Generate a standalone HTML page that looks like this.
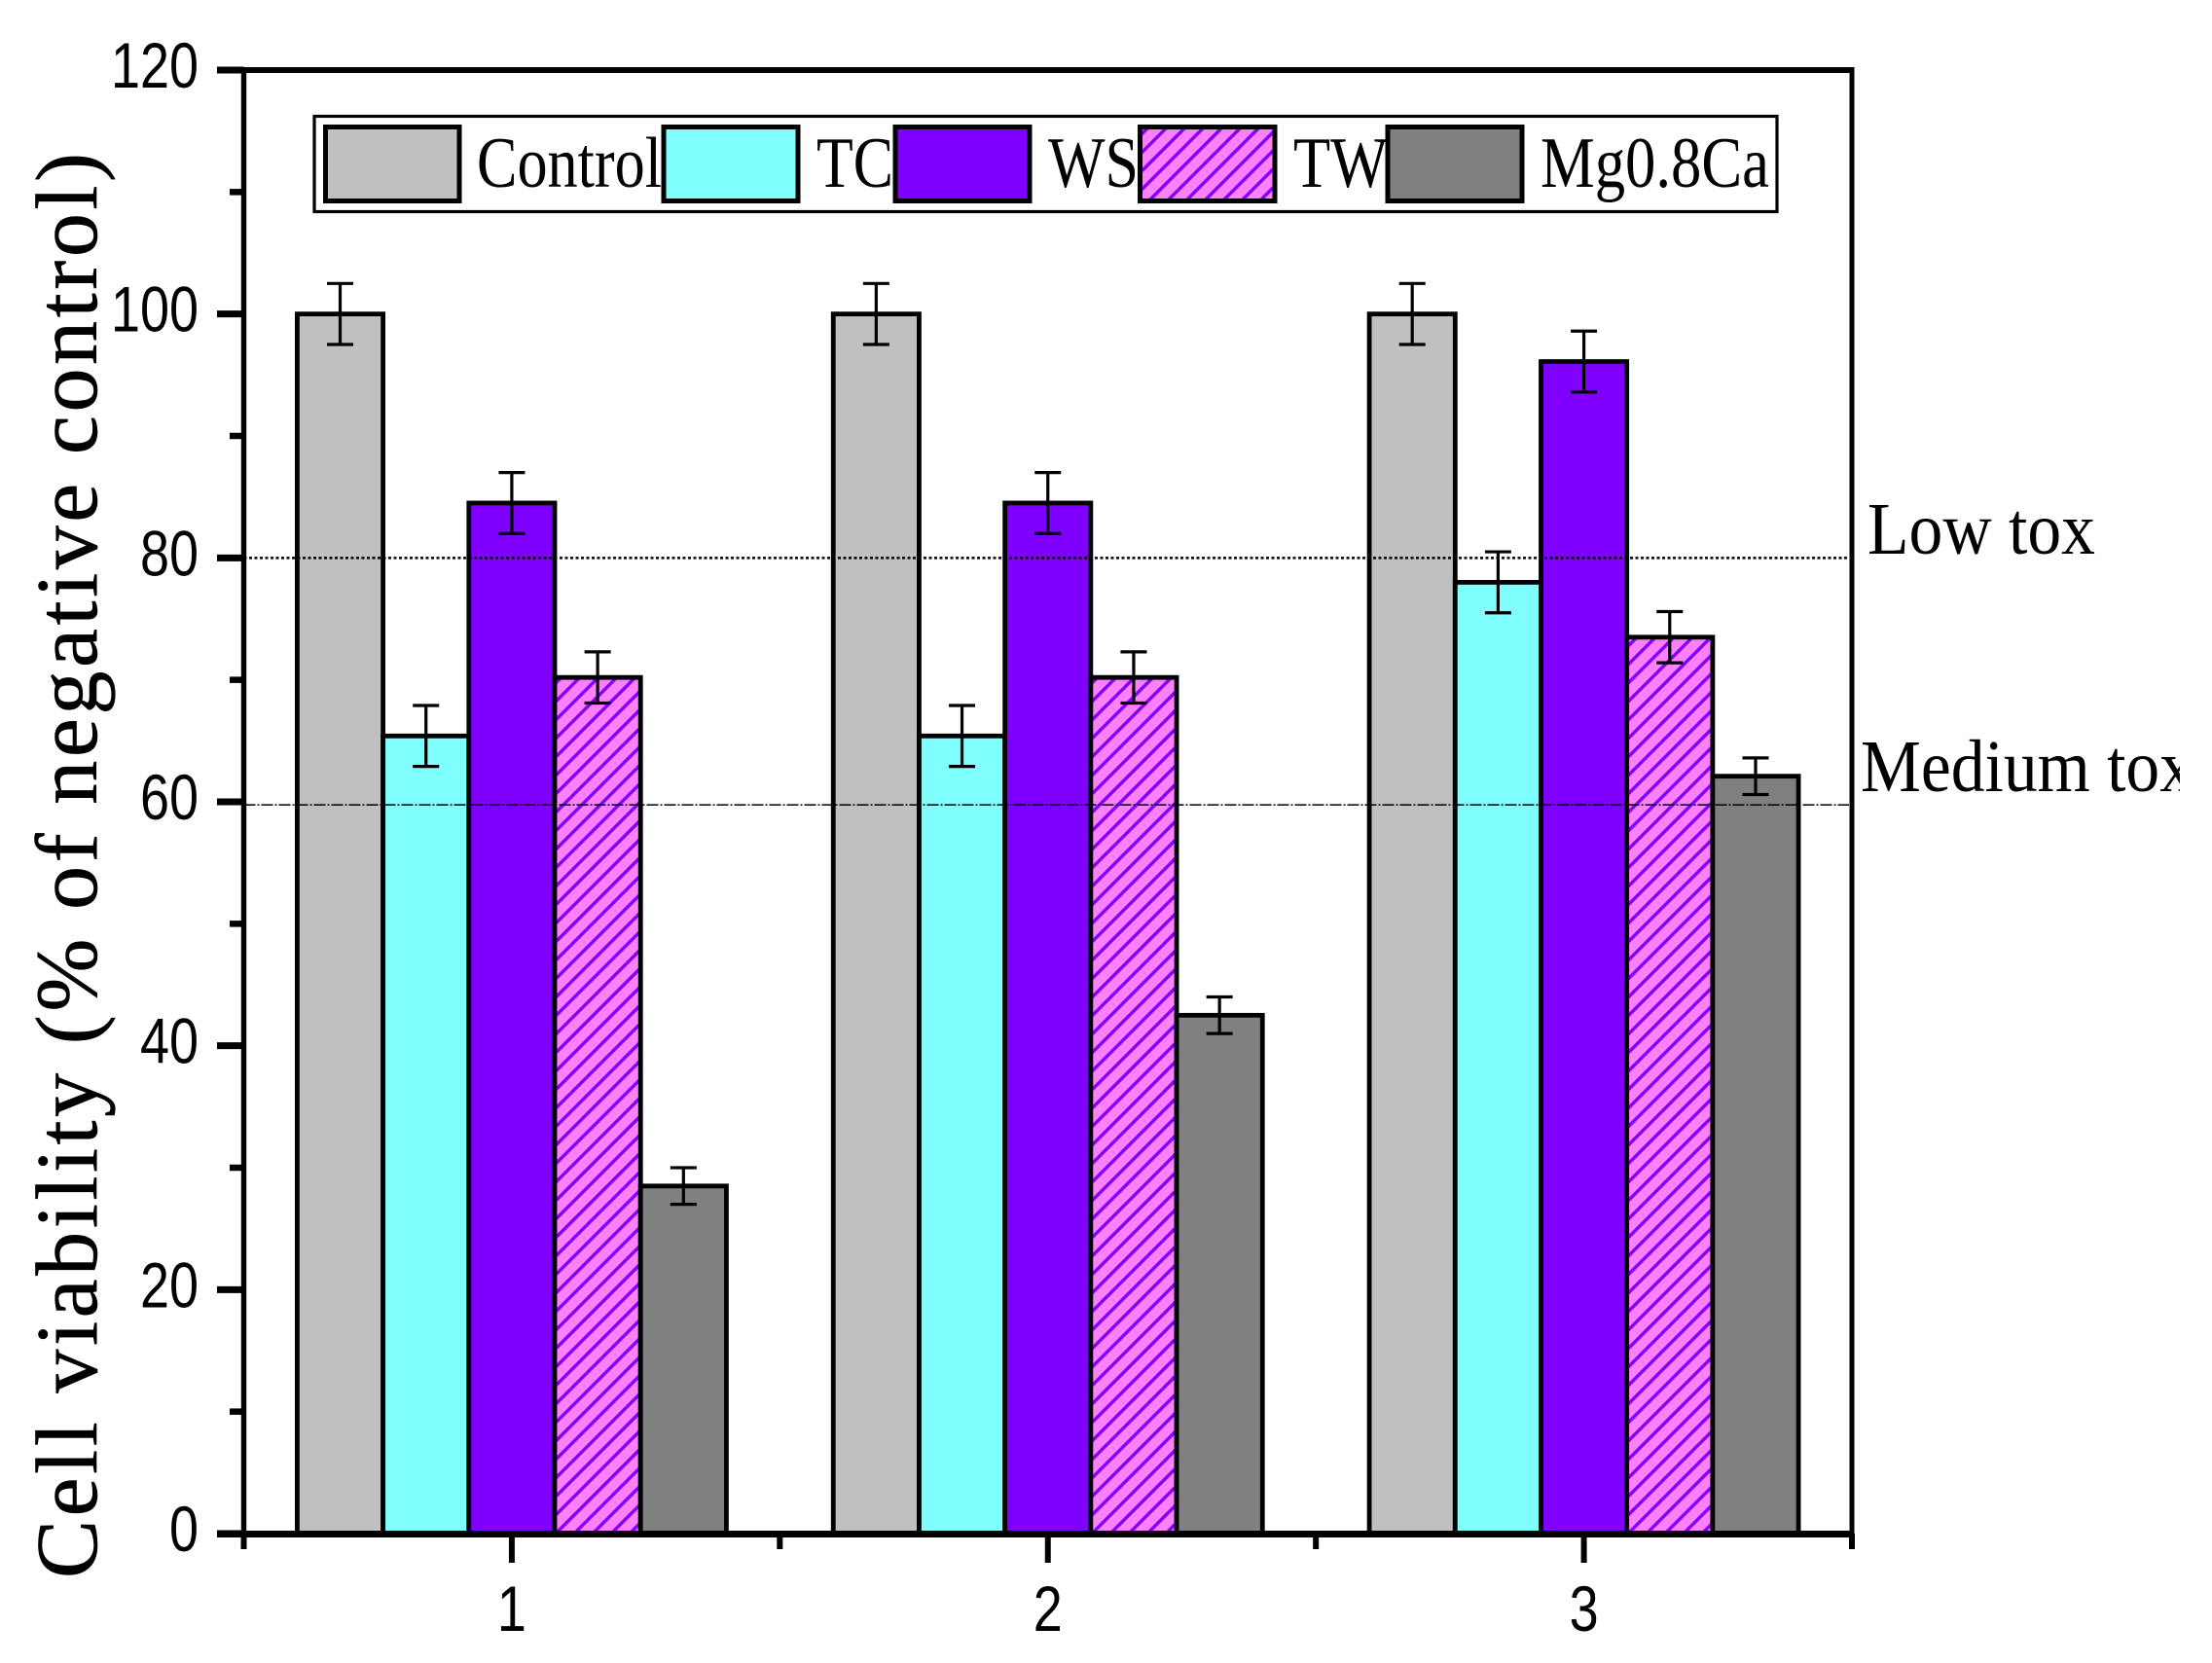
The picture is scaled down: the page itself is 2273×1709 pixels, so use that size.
<!DOCTYPE html>
<html lang="en">
<head>
<meta charset="utf-8">
<title>Cell viability chart</title>
<style>
html,body{margin:0;padding:0;background:#fff;width:2273px;height:1709px;overflow:hidden}
svg{display:block}
.serif{font-family:"Liberation Serif",serif}
.sans{font-family:"Liberation Sans",sans-serif}
</style>
</head>
<body>
<svg id="chart" xmlns="http://www.w3.org/2000/svg" width="2273" height="1709" viewBox="0 0 2273 1709">
<defs>
<pattern id="hatch" patternUnits="userSpaceOnUse" width="19" height="19">
<rect width="19" height="19" fill="#FF80FF"></rect>
<path d="M-5 24L24 -5M-5 5L5 -5M14 24L24 14" stroke="#8000FF" stroke-width="3.4"></path>
</pattern>
<clipPath id="page-clip"><rect x="0" y="0" width="2240" height="1709"></rect></clipPath>
</defs>
<rect width="2273" height="1709" fill="#fff"></rect>
<g id="bars"></g>
<g id="refs"></g>
<g id="axes"></g>
<text class="serif" transform="translate(99 1622) rotate(-90)" font-size="90" stroke="#000" stroke-width="0.6" textLength="1465" lengthAdjust="spacing">Cell viability (% of negative control)</text>
<g id="legend"></g>
<text class="serif" x="1919" y="569" font-size="76" textLength="234" lengthAdjust="spacingAndGlyphs">Low tox</text>
<g clip-path="url(#page-clip)">
<text class="serif" x="1912" y="813" font-size="76" textLength="342" lengthAdjust="spacingAndGlyphs">Medium tox</text>
</g>
</svg>
<script>
const categories = ['1', '2', '3'];
const seriesNames = ['Control', 'TC', 'WS', 'TW', 'Mg0.8Ca'];
const control = [100, 100, 100];
const tc = [65.4, 65.4, 78];
const ws = [84.5, 84.5, 96.1];
const tw = [70.2, 70.2, 73.5];
const mg = [28.5, 42.5, 62.1];
const controlErr = [2.5, 2.5, 2.5];
const tcErr = [2.5, 2.5, 2.5];
const wsErr = [2.5, 2.5, 2.5];
const twErr = [2.1, 2.1, 2.1];
const mgErr = [1.5, 1.5, 1.5];
const yTicks = [0, 20, 40, 60, 80, 100, 120];
const yMinorTicks = [10, 30, 50, 70, 90, 110];
const lowToxLevel = 80;
const mediumToxLevel = 59.75;

const NS = 'http://www.w3.org/2000/svg';
const seriesValues = [control, tc, ws, tw, mg];
const seriesErrors = [controlErr, tcErr, wsErr, twErr, mgErr];
const seriesFills = ['#C0C0C0', '#80FFFF', '#8000FF', 'url(#hatch)', '#808080'];
const seriesKeys = ['control', 'tc', 'ws', 'tw', 'mg'];

const yScale = v => 1576 - v * (1576 - 72) / 120;
const plotLeft = 250.5, plotRight = 1903;
const catStep = (plotRight - plotLeft) / categories.length;
const xCenter = i => plotLeft + catStep * (i + 0.5);
const barW = 88.2;

function make(tag, attrs, parent) {
  const el = document.createElementNS(NS, tag);
  for (const k in attrs) el.setAttribute(k, attrs[k]);
  parent.appendChild(el);
  return el;
}

const barsG = document.getElementById('bars');
categories.forEach((cat, c) => {
  seriesValues.forEach((vals, s) => {
    const x = xCenter(c) + (s - 2.5) * barW;
    const top = yScale(vals[c]);
    const bar = make('rect', {x: x, y: top, width: barW, height: 1576 - top, fill: seriesFills[s], stroke: '#000', 'stroke-width': 4.8}, barsG);
    
    
  });
});
categories.forEach((cat, c) => {
  seriesValues.forEach((vals, s) => {
    const cx = xCenter(c) + (s - 2) * barW;
    const hi = yScale(vals[c] + seriesErrors[s][c]);
    const lo = yScale(vals[c] - seriesErrors[s][c]);
    const err = make('path', {d: 'M' + (cx - 13.5) + ' ' + hi + 'H' + (cx + 13.5) + 'M' + cx + ' ' + hi + 'V' + lo + 'M' + (cx - 13.5) + ' ' + lo + 'H' + (cx + 13.5), fill: 'none', stroke: '#000', 'stroke-width': 3.2}, barsG);
    
    
  });
});

const refsG = document.getElementById('refs');
const lowLine = make('line', {x1: plotLeft, x2: 1900, y1: yScale(lowToxLevel), y2: yScale(lowToxLevel), stroke: '#000', 'stroke-width': 2.5, 'stroke-dasharray': '3 2.5'}, refsG);


const medLine = make('line', {x1: plotLeft, x2: 1900, y1: yScale(mediumToxLevel), y2: yScale(mediumToxLevel), stroke: '#000', 'stroke-width': 1.6, 'stroke-dasharray': '12 2 2 2'}, refsG);



const axesG = document.getElementById('axes');
const leftAxis = make('line', {x1: plotLeft, x2: plotLeft, y1: 69, y2: 1580, stroke: '#000', 'stroke-width': 5.4}, axesG);


const rightAxis = make('line', {x1: plotRight, x2: plotRight, y1: 69, y2: 1592, stroke: '#000', 'stroke-width': 5}, axesG);


const topAxis = make('line', {x1: 223, x2: plotRight + 2, y1: 72, y2: 72, stroke: '#000', 'stroke-width': 6}, axesG);


const bottomAxis = make('line', {x1: 223, x2: plotRight + 2, y1: 1576.5, y2: 1576.5, stroke: '#000', 'stroke-width': 7}, axesG);



yTicks.forEach(v => {
  const t = make('line', {x1: 223, x2: plotLeft, y1: yScale(v), y2: yScale(v), stroke: '#000', 'stroke-width': 7}, axesG);
  
  
  const label = make('text', {x: 204, y: yScale(v) + 18, 'font-size': 66, 'text-anchor': 'end', 'class': 'sans', textLength: String(v).length * 30, lengthAdjust: 'spacingAndGlyphs'}, axesG);
  label.textContent = v;
  
  
});
yMinorTicks.forEach(v => {
  const t = make('line', {x1: 236, x2: plotLeft, y1: yScale(v), y2: yScale(v), stroke: '#000', 'stroke-width': 6.5}, axesG);
  
  
});
categories.forEach((cat, c) => {
  const t = make('line', {x1: xCenter(c), x2: xCenter(c), y1: 1576, y2: 1606, stroke: '#000', 'stroke-width': 6}, axesG);
  
  
  const label = make('text', {x: xCenter(c), y: 1676, 'font-size': 66, 'text-anchor': 'middle', 'class': 'sans', textLength: 30, lengthAdjust: 'spacingAndGlyphs'}, axesG);
  label.textContent = cat;
  
  
});
for (let i = 0; i <= categories.length; i++) {
  const mx = plotLeft + catStep * i;
  const t = make('line', {x1: mx, x2: mx, y1: 1576, y2: 1592, stroke: '#000', 'stroke-width': 6}, axesG);
  
  
}

const legendG = document.getElementById('legend');
const legendBox = make('rect', {x: 323, y: 119.5, width: 1503, height: 98, fill: '#fff', stroke: '#000', 'stroke-width': 3.2}, legendG);


const swatchLeft = [334.5, 682, 920, 1171.5, 1426];
const swatchRight = [472, 820, 1058, 1310, 1564];
const textLeft = [490, 839, 1077, 1329, 1583];
const textRight = [680, 918, 1170, 1426, 1818];
seriesNames.forEach((name, s) => {
  const sw = make('rect', {x: swatchLeft[s], y: 130.5, width: swatchRight[s] - swatchLeft[s], height: 76, fill: seriesFills[s], stroke: '#000', 'stroke-width': 5}, legendG);
  
  
  const label = make('text', {x: textLeft[s], y: 192, 'font-size': 74, 'class': 'serif', textLength: textRight[s] - textLeft[s], lengthAdjust: 'spacingAndGlyphs'}, legendG);
  label.textContent = name;
  
  
});
</script>
</body>
</html>
